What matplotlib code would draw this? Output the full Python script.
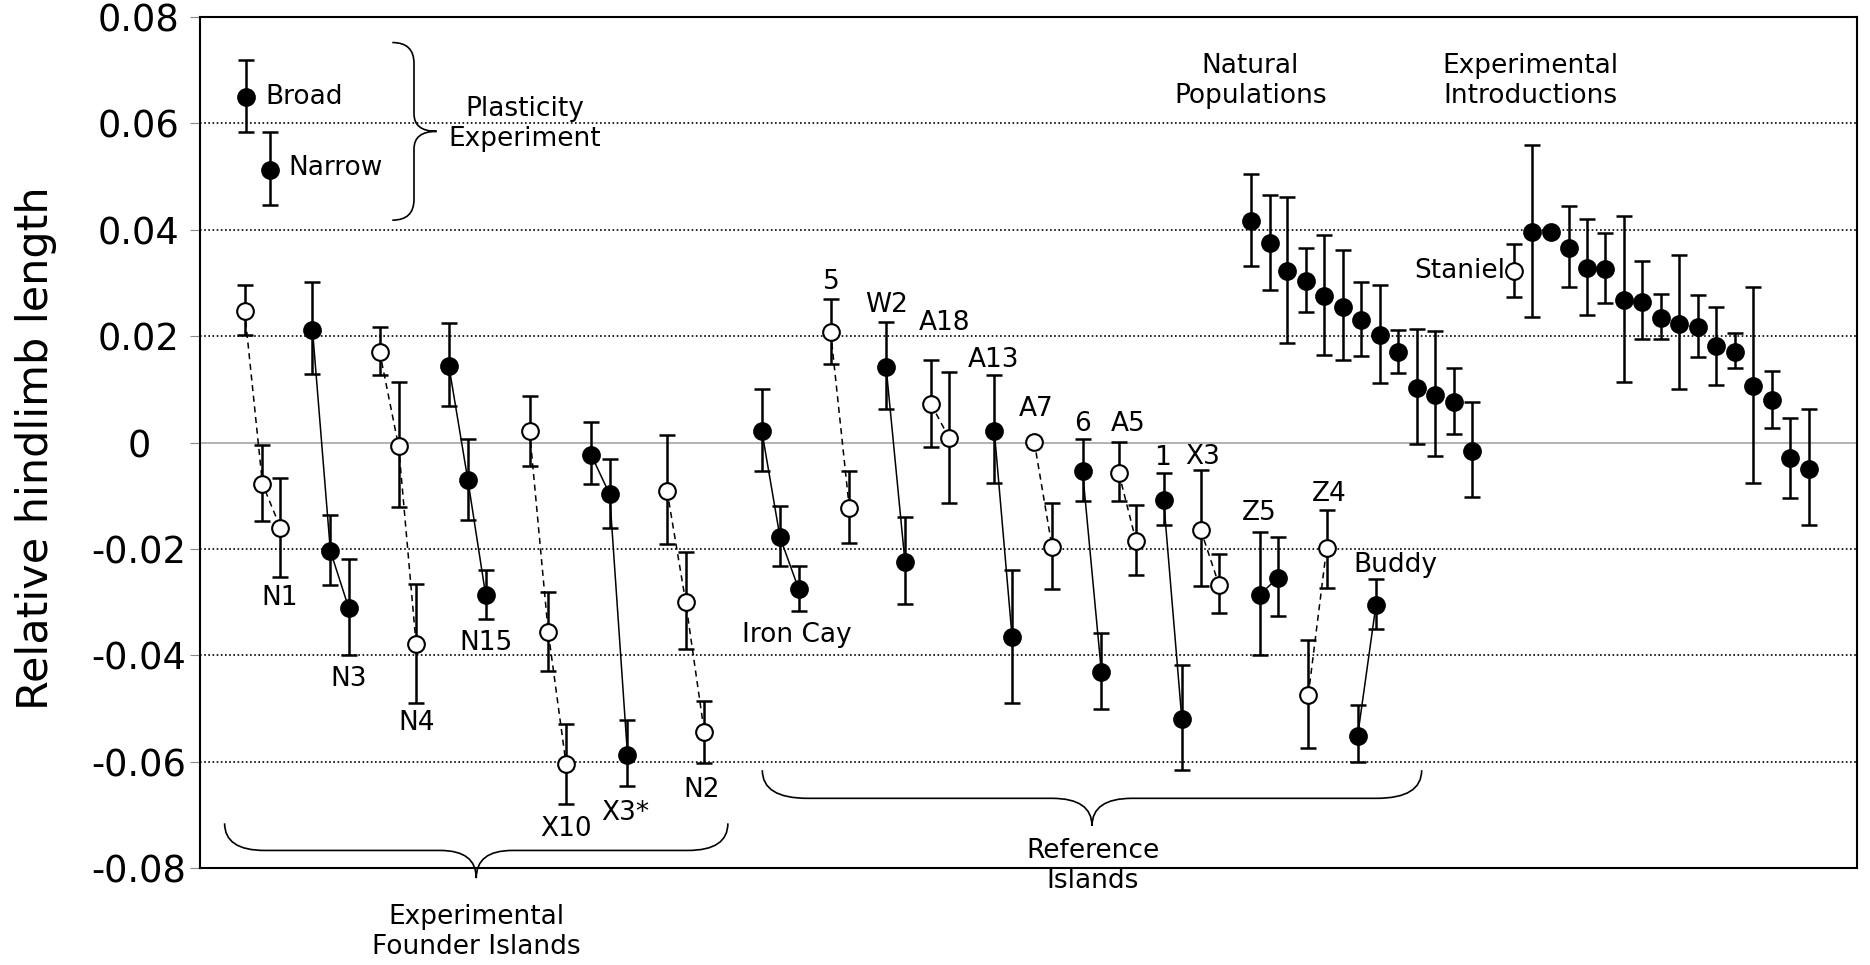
import numpy as np
import matplotlib
matplotlib.use("Agg")
import matplotlib.pyplot as plt
from matplotlib.path import Path
from matplotlib.patches import PathPatch

founder_names = ["N1", "N3", "N4", "N15", "X10", "X3*", "N2"]
founder_open = [True, False, True, False, True, False, True]
founder_x = [[244.6, 262.5, 280.4], [312.5, 330.4, 348.9], [379.6, 398.6, 416.1],
             [448.9, 467.9, 485.7], [529.6, 548.2, 566.1], [591.1, 609.6, 627.5],
             [667.1, 685.7, 704.3]]
founder_y = [[0.0248, -0.0078, -0.0160], [0.0212, -0.0204, -0.0312], [0.0171, -0.0007, -0.0379],
             [0.0144, -0.0071, -0.0287], [0.0021, -0.0356, -0.0605], [-0.0023, -0.0097, -0.0587],
             [-0.0091, -0.0300, -0.0545]]
founder_hi = [[0.0296, -0.0005, -0.0066], [0.0302, -0.0136, -0.0219], [0.0218, 0.0113, -0.0266],
              [0.0224, 0.0007, -0.0239], [0.0088, -0.0282, -0.0529], [0.0039, -0.0031, -0.0522],
              [0.0014, -0.0206, -0.0486]]
founder_lo = [[0.0203, -0.0148, -0.0252], [0.0129, -0.0267, -0.0399], [0.0126, -0.0122, -0.0490],
              [0.0069, -0.0145, -0.0332], [-0.0045, -0.0429, -0.0679], [-0.0078, -0.0160, -0.0645],
              [-0.0190, -0.0389, -0.0602]]
founder_label_x = [279.3, 348.2, 416.8, 486.4, 566.1, 625.0, 701.8]
founder_label_y = [-0.0292, -0.0444, -0.0527, -0.0377, -0.0727, -0.0696, -0.0653]

ref_names = ["Iron Cay", "5", "W2", "A18", "A13", "A7", "6", "A5", "1", "X3", "Z5", "Z4", "Buddy"]
ref_open = [False, True, False, True, False, True, False, True, False, True, False, True, False]
ref_x = [[761.8, 780.0, 798.6], [830.7, 849.3], [886.1, 905.0], [931.1, 949.3], [994.3, 1012.1],
         [1034.3, 1052.1], [1082.5, 1101.4], [1118.9, 1136.0], [1163.6, 1181.8], [1200.7, 1218.9],
         [1259.7, 1278.2], [1308.3, 1326.6], [1357.7, 1376.0]]
ref_y = [[0.0022, -0.0178, -0.0275], [0.0207, -0.0123], [0.0142, -0.0225], [0.0072, 0.0008],
         [0.0022, -0.0366], [0.0001, -0.0197], [-0.0053, -0.0432], [-0.0058, -0.0185],
         [-0.0108, -0.0519], [-0.0164, -0.0267], [-0.0286, -0.0254], [-0.0475, -0.0199],
         [-0.0551, -0.0305]]
ref_hi = [[0.0101, -0.0120, -0.0232], [0.0270, -0.0053], [0.0227, -0.0141], [0.0156, 0.0133],
          [0.0126, -0.0239], [np.nan, -0.0114], [0.0006, -0.0359], [0.0001, -0.0117],
          [-0.0058, -0.0418], [-0.0052, -0.0209], [-0.0168, -0.0178], [-0.0371, -0.0126],
          [-0.0494, -0.0257]]
ref_lo = [[-0.0054, -0.0233, -0.0316], [0.0148, -0.0189], [0.0063, -0.0303], [-0.0009, -0.0114],
          [-0.0077, -0.0490], [np.nan, -0.0276], [-0.0110, -0.0501], [-0.0110, -0.0249],
          [-0.0155, -0.0616], [-0.0270, -0.0321], [-0.0399, -0.0327], [-0.0574, -0.0273],
          [-0.0601, -0.0351]]
ref_label_x = [796.8, 831.8, 886.1, 944.3, 993.2, 1036.1, 1082.5, 1127.9, 1162.9, 1202.9,
               1259.7, 1329.6, 1395.7]
ref_label_y = [-0.0361, 0.0301, 0.0258, 0.0224, 0.0155, 0.0063, 0.0035, 0.0035, -0.0030,
               -0.0027, -0.0133, -0.0096, -0.0230]

natural_x = [1251.3, 1269.8, 1287.4, 1305.9, 1324.4, 1342.9, 1360.9, 1379.8, 1398.3,
             1416.8, 1435.3, 1453.8, 1472.3]
natural_y = [0.0417, 0.0375, 0.0322, 0.0303, 0.0276, 0.0255, 0.0230, 0.0203, 0.0171,
             0.0103, 0.0090, 0.0076, -0.0016]
natural_hi = [0.0504, 0.0466, 0.0461, 0.0366, 0.0391, 0.0361, 0.0302, 0.0297, 0.0212,
              0.0214, 0.0210, 0.0140, 0.0077]
natural_lo = [0.0332, 0.0287, 0.0188, 0.0245, 0.0165, 0.0156, 0.0163, 0.0112, 0.0131,
              -0.0003, -0.0025, 0.0016, -0.0103]

staniel_x = [1513.5]
staniel_y = [0.0322]
staniel_hi = [0.0373]
staniel_lo = [0.0274]

intro_x = [1532.1, 1550.6, 1568.6, 1587.1, 1605.2, 1624.1, 1642.1, 1660.6, 1679.1,
           1697.6, 1716.1, 1735.0, 1753.0, 1772.0, 1790.0, 1809.0]
intro_y = [0.0396, 0.0395, 0.0366, 0.0328, 0.0326, 0.0267, 0.0265, 0.0234, 0.0223,
           0.0218, 0.0182, 0.0171, 0.0106, 0.0079, -0.0030, -0.0049]
intro_hi = [0.0560, np.nan, 0.0445, 0.0421, 0.0394, 0.0425, 0.0341, 0.0280, 0.0353,
            0.0278, 0.0255, 0.0206, 0.0292, 0.0134, 0.0047, 0.0063]
intro_lo = [0.0236, np.nan, 0.0292, 0.0239, 0.0263, 0.0113, 0.0194, 0.0194, 0.0100,
            0.0161, 0.0109, 0.0141, -0.0077, 0.0028, -0.0104, -0.0155]

plastic_names = ["Broad", "Narrow"]
plastic_x = [246.0, 270.0]
plastic_y = [0.0650, 0.0512]
plastic_hi = [0.0719, 0.0584]
plastic_lo = [0.0583, 0.0447]

ytick_vals = [-0.08, -0.06, -0.04, -0.02, 0, 0.02, 0.04, 0.06, 0.08]
ytick_text = ["-0.08", "-0.06", "-0.04", "-0.02", "0", "0.02", "0.04", "0.06", "0.08"]

plt.rcParams["font.family"] = ["DejaVu Sans"]
LABEL_FS = 19


def draw_series(ax, x, y, lo, hi, hollow, connect=True):
    x, y, lo, hi = (np.asarray(a, dtype=float) for a in (x, y, lo, hi))
    if connect and len(x) > 1:
        ax.plot(x, y, color="black", lw=1.1,
                ls=(0, (4, 3)) if hollow else "-", zorder=2)
    ok = ~np.isnan(lo)
    if ok.any():
        ax.errorbar(x[ok], y[ok], yerr=[y[ok] - lo[ok], hi[ok] - y[ok]], fmt="none",
                    ecolor="black", elinewidth=1.8, capsize=5.6, capthick=1.8, zorder=3)
    ax.plot(x, y, "o", ls="none", ms=12, mew=1.5, mec="black",
            mfc="white" if hollow else "black", zorder=4)


def hbrace(ax, x0, x1, ytop, ybody, ytip, r_end, r_mid):
    xm = (x0 + x1) / 2
    verts = [(x0, ytop), (x0, ybody), (x0 + r_end, ybody),
             (xm - r_mid, ybody), (xm, ybody), (xm, ytip),
             (xm, ybody), (xm + r_mid, ybody),
             (x1 - r_end, ybody), (x1, ybody), (x1, ytop)]
    codes = [Path.MOVETO, Path.CURVE3, Path.CURVE3, Path.LINETO, Path.CURVE3, Path.CURVE3,
             Path.CURVE3, Path.CURVE3, Path.LINETO, Path.CURVE3, Path.CURVE3]
    ax.add_patch(PathPatch(Path(verts, codes), fill=False, lw=1.2, ec="black", clip_on=False))


def vbrace(ax, xend, xbody, xtip, y0, y1, r_end, r_mid):
    ym = (y0 + y1) / 2
    verts = [(xend, y0), (xbody, y0), (xbody, y0 - r_end),
             (xbody, ym + r_mid), (xbody, ym), (xtip, ym),
             (xbody, ym), (xbody, ym - r_mid),
             (xbody, y1 + r_end), (xbody, y1), (xend, y1)]
    codes = [Path.MOVETO, Path.CURVE3, Path.CURVE3, Path.LINETO, Path.CURVE3, Path.CURVE3,
             Path.CURVE3, Path.CURVE3, Path.LINETO, Path.CURVE3, Path.CURVE3]
    ax.add_patch(PathPatch(Path(verts, codes), fill=False, lw=1.2, ec="black", clip_on=False))


fig = plt.figure(figsize=(18.7, 9.65), dpi=100)
ax = fig.add_axes([0.10695, 0.10052, 0.8861, 0.88186])
ax.set_xlim(200, 1857)
ax.set_ylim(-0.08, 0.08)

for v in [-0.06, -0.04, -0.02, 0.02, 0.04, 0.06]:
    ax.axhline(v, color="black", lw=1.2, ls=(0, (1, 1.5)), zorder=1)
ax.axhline(0, color="#a6a6a6", lw=1.2, zorder=1)

for i in range(len(founder_names)):
    draw_series(ax, founder_x[i], founder_y[i], founder_lo[i], founder_hi[i], founder_open[i])
    ax.text(founder_label_x[i], founder_label_y[i], founder_names[i], fontsize=LABEL_FS,
            ha="center", va="center")

for i in range(len(ref_names)):
    draw_series(ax, ref_x[i], ref_y[i], ref_lo[i], ref_hi[i], ref_open[i])
    ax.text(ref_label_x[i], ref_label_y[i], ref_names[i], fontsize=LABEL_FS,
            ha="center", va="center")

draw_series(ax, natural_x, natural_y, natural_lo, natural_hi, False, connect=False)
draw_series(ax, staniel_x, staniel_y, staniel_lo, staniel_hi, True, connect=False)
ax.text(1505.7, 0.0322, "Staniel", fontsize=LABEL_FS, ha="right", va="center")
draw_series(ax, intro_x, intro_y, intro_lo, intro_hi, False, connect=False)

# plasticity experiment key
draw_series(ax, plastic_x, plastic_y, plastic_lo, plastic_hi, False, connect=False)
ax.text(265.0, 0.0650, plastic_names[0], fontsize=LABEL_FS, ha="left", va="center")
ax.text(288.3, 0.0516, plastic_names[1], fontsize=LABEL_FS, ha="left", va="center")
vbrace(ax, 392.3, 414.0, 436.7, 0.0752, 0.0418, 0.0039, 0.0033)
ax.text(525.0, 0.0598, "Plasticity\nExperiment", fontsize=LABEL_FS, ha="center", va="center")

ax.text(1250.4, 0.0680, "Natural\nPopulations", fontsize=LABEL_FS, ha="center", va="center")
ax.text(1530.8, 0.0680, "Experimental\nIntroductions", fontsize=LABEL_FS,
        ha="center", va="center")

hbrace(ax, 224.6, 727.9, -0.0716, -0.0767, -0.0819, 40, 36)
ax.text(476.4, -0.0920, "Experimental\nFounder Islands", fontsize=LABEL_FS,
        ha="center", va="center")
hbrace(ax, 762.3, 1421.7, -0.0616, -0.0669, -0.0721, 45, 40)
ax.text(1092.7, -0.0796, "Reference\nIslands", fontsize=LABEL_FS, ha="center", va="center")

ax.set_xticks([])
ax.set_yticks(ytick_vals)
ax.set_yticklabels(ytick_text, ha="center")
ax.tick_params(axis="y", length=7, width=0.8, color="#888888", labelsize=26.5, pad=37)
for sp in ax.spines.values():
    sp.set_linewidth(1.5)
    sp.set_color("black")

ax.set_ylabel("Relative hindlimb length", fontsize=31)
ax.yaxis.set_label_coords(-0.099, 0.493)
ax.yaxis.label.set_va("center")

fig.savefig("out.png", dpi=100)
